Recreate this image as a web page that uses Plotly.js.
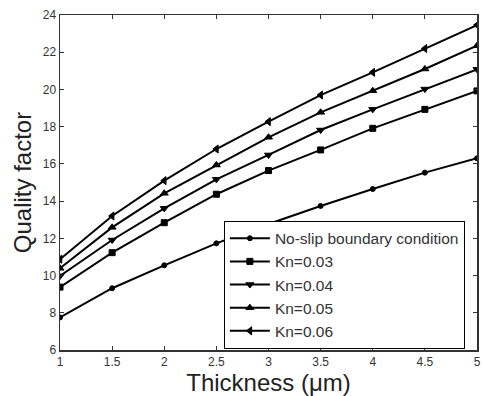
<!DOCTYPE html>
<html>
<head>
<meta charset="utf-8">
<script src="https://cdn.plot.ly/plotly-3.0.1.min.js"></script>
<style>html,body{margin:0;padding:0;background:#fff;}#chart{width:482px;height:396px;}</style>
</head>
<body>
<div id="chart"></div>
<script>
const thickness = [1, 1.5, 2, 2.5, 3, 3.5, 4, 4.5, 5];
const noSlip = [7.75, 9.32, 10.55, 11.73, 12.77, 13.74, 14.65, 15.53, 16.30];
const kn003 = [9.38, 11.23, 12.84, 14.37, 15.64, 16.75, 17.91, 18.93, 19.92];
const kn004 = [9.98, 11.91, 13.61, 15.17, 16.48, 17.82, 18.93, 20.02, 21.08];
const kn005 = [10.39, 12.59, 14.42, 15.94, 17.43, 18.77, 19.93, 21.10, 22.35];
const kn006 = [10.88, 13.20, 15.10, 16.80, 18.27, 19.70, 20.92, 22.20, 23.46];
const seriesNames = ['No-slip boundary condition', 'Kn=0.03', 'Kn=0.04', 'Kn=0.05', 'Kn=0.06'];
const xTicks = [1, 1.5, 2, 2.5, 3, 3.5, 4, 4.5, 5];
const yTicks = [6, 8, 10, 12, 14, 16, 18, 20, 22, 24];

const seriesData = [noSlip, kn003, kn004, kn005, kn006];
const symbols = ['circle', 'square', 'triangle-down', 'triangle-up', 'triangle-left'];
const sizes = [5, 6, 7, 7, 7];

const traces = seriesData.map((ys, i) => ({
  x: thickness, y: ys, name: seriesNames[i], type: 'scatter', mode: 'lines+markers',
  line: {color: '#000', width: 2},
  marker: {symbol: symbols[i], size: sizes[i], color: '#000', line: {color: '#000', width: 1}}
}));

const layout = {
  width: 482, height: 396,
  margin: {l: 60, r: 5, t: 15, b: 46, autoexpand: false},
  paper_bgcolor: '#fff', plot_bgcolor: '#fff',
  font: {family: 'Arial, "Liberation Sans", sans-serif', color: '#333', size: 12},
  showlegend: true,
  legend: {
    x: 0.393, y: 0.004, xanchor: 'left', yanchor: 'bottom',
    bgcolor: '#fff', bordercolor: '#000', borderwidth: 1,
    font: {size: 15.5, color: '#333'},
    tracegroupgap: 0, itemwidth: 40
  },
  xaxis: {
    range: [1, 5], tickvals: xTicks, ticktext: xTicks.map(String),
    ticks: 'inside', ticklen: 4, tickcolor: '#333', mirror: 'ticks',
    showline: true, linecolor: '#333', linewidth: 1.5, showgrid: false, zeroline: false,
    tickfont: {size: 12, color: '#333'},
    title: {text: 'Thickness (\u03bcm)', font: {size: 24, color: '#222'}, standoff: 2}
  },
  yaxis: {
    range: [6, 24], tickvals: yTicks, ticktext: yTicks.map(String),
    ticks: 'inside', ticklen: 4, tickcolor: '#333', mirror: 'ticks',
    showline: true, linecolor: '#333', linewidth: 1.5, showgrid: false, zeroline: false,
    tickfont: {size: 12, color: '#333'},
    title: {text: 'Quality factor', font: {size: 24, color: '#222'}, standoff: 4}
  }
};

Plotly.newPlot('chart', traces, layout, {displayModeBar: false, staticPlot: true});
</script>
</body>
</html>
